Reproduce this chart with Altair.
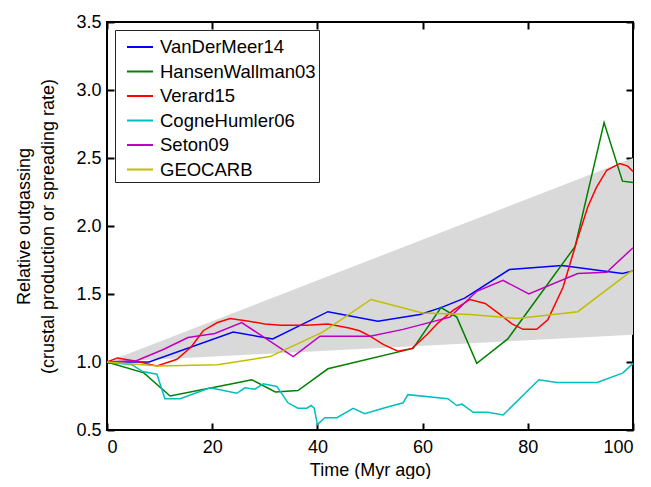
import altair as alt
import pandas as pd

FONT = "Liberation Sans"

series_names = ["VanDerMeer14", "HansenWallman03", "Verard15", "CogneHumler06", "Seton09", "GEOCARB"]
series_colors = ["#0000ff", "#008000", "#ff0000", "#00bfbf", "#bf00bf", "#bfbf00"]

vdm_t = [0, 8, 24, 31.5, 42, 51.5, 59.5, 63.5, 68, 76.5, 86.5, 98, 100]
vdm_v = [1.0, 1.0, 1.22, 1.17, 1.37, 1.30, 1.35, 1.40, 1.47, 1.68, 1.71, 1.65, 1.67]

hw_t = [0, 7, 12, 25, 27.5, 32, 36.3, 42, 58.2, 63.5, 66.5, 70.3, 76.2, 89, 94.5, 98, 100]
hw_v = [1.0, 0.92, 0.75, 0.85, 0.87, 0.78, 0.79, 0.95, 1.10, 1.40, 1.33, 0.99, 1.17, 1.85, 2.76, 2.33, 2.32]

ver_t = [0, 2, 5, 9.5, 13.3, 16, 18.3, 21, 23.4, 27, 30, 33, 38, 42, 46, 48, 50, 52.5, 55.3, 58, 60.8,
         63, 65.8, 69, 71.9, 74.7, 77, 79.1, 81.7, 83.8, 86.7, 89.4, 91.4, 93, 95, 97.5, 99, 100]
ver_v = [1.0, 1.03, 1.01, 0.97, 1.02, 1.11, 1.23, 1.29, 1.32, 1.30, 1.28, 1.27, 1.27, 1.28, 1.25, 1.23, 1.19,
         1.13, 1.08, 1.10, 1.20, 1.29, 1.38, 1.46, 1.43, 1.35, 1.28, 1.24, 1.24, 1.31, 1.55, 1.90, 2.14, 2.28,
         2.41, 2.46, 2.44, 2.40]

ch_t = [0, 4.7, 6.8, 9.5, 11, 13.9, 19.6, 24.7, 26.2, 28.1, 29.7, 32.3, 34.4, 36.3, 38, 38.8, 39.4, 40,
        41.4, 43.7, 46.8, 49, 52.5, 56.3, 57.2, 64.8, 66.5, 67.5, 69.6, 72.4, 75.3, 82.1, 85.5, 93.2, 98.1, 100]
ch_v = [1.0, 0.98, 0.93, 0.91, 0.73, 0.73, 0.81, 0.77, 0.81, 0.80, 0.84, 0.82, 0.70, 0.66, 0.66, 0.68, 0.66,
        0.54, 0.59, 0.59, 0.66, 0.62, 0.66, 0.70, 0.76, 0.73, 0.68, 0.69, 0.63, 0.63, 0.61, 0.87, 0.85, 0.85,
        0.92, 0.99]

set_t = [0, 5.6, 10.6, 15.4, 20.5, 25.6, 35.4, 40.5, 50, 56.3, 65.2, 70.3, 75.3, 80.2, 89.5, 95, 100]
set_v = [1.0, 1.01, 1.09, 1.18, 1.21, 1.29, 1.04, 1.19, 1.19, 1.24, 1.33, 1.52, 1.60, 1.50, 1.65, 1.66, 1.84]

geo_t = [0, 9.8, 21, 31, 41, 50.2, 60, 69, 74.7, 78, 89.5, 99.4, 100]
geo_v = [1.0, 0.97, 0.98, 1.04, 1.22, 1.46, 1.36, 1.35, 1.33, 1.32, 1.37, 1.66, 1.67]

band_t = [0, 100]
band_lo = [1.0, 1.2]
band_hi = [1.0, 2.5]

x_ticks = [0, 20, 40, 60, 80, 100]
y_ticks = [0.5, 1.0, 1.5, 2.0, 2.5, 3.0, 3.5]

rows = []
for name, ts, vs in zip(series_names,
                        [vdm_t, hw_t, ver_t, ch_t, set_t, geo_t],
                        [vdm_v, hw_v, ver_v, ch_v, set_v, geo_v]):
    for t, v in zip(ts, vs):
        rows.append({"series": name, "t": t, "v": v})
lines_df = pd.DataFrame(rows)
band_df = pd.DataFrame({"t": band_t, "lo": band_lo, "hi": band_hi})

xscale = alt.Scale(domain=[0, 100], nice=False, zero=False)
yscale = alt.Scale(domain=[0.5, 3.5], nice=False, zero=False)


def tick_axis(orient, values):
    return alt.Axis(orient=orient, offset=-7, tickSize=7, tickWidth=2, tickColor="black",
                    labels=False, domain=False, grid=False, title=None, values=values)


band = alt.Chart(band_df).mark_area(color="#d9d9d9", opacity=1).encode(
    x=alt.X("t:Q", scale=xscale,
            axis=alt.Axis(title="Time (Myr ago)", values=x_ticks, ticks=False, tickSize=0, domain=False,
                          grid=False, format="d", labelPadding=8, titlePadding=5,
                          labelFontSize=18, titleFontSize=18, labelColor="black", titleColor="black",
                          titleFontWeight="normal")),
    y=alt.Y("lo:Q", scale=yscale,
            axis=alt.Axis(title=["Relative outgassing", "(crustal production or spreading rate)"],
                          values=y_ticks, ticks=False, tickSize=0, domain=False, grid=False, format=".1f",
                          labelPadding=6, titlePadding=18, titleLineHeight=24,
                          labelFontSize=18, titleFontSize=18, labelColor="black", titleColor="black",
                          titleFontWeight="normal")),
    y2="hi:Q",
)

lines = alt.Chart(lines_df).mark_line(strokeWidth=1.5).encode(
    x=alt.X("t:Q", scale=xscale, axis=tick_axis("bottom", x_ticks)),
    y=alt.Y("v:Q", scale=yscale, axis=tick_axis("left", y_ticks)),
    color=alt.Color("series:N", scale=alt.Scale(domain=series_names, range=series_colors),
                    legend=alt.Legend(title=None, orient="none", legendX=8, legendY=8,
                                      symbolType="stroke", symbolSize=676, symbolStrokeWidth=2,
                                      symbolOffset=8, labelFontSize=18.5, labelFont=FONT, labelColor="black",
                                      labelOffset=6, rowPadding=0.5, padding=3, strokeColor="#222222",
                                      fillColor="white", cornerRadius=0, labelLimit=300,
                                      labelExpr="datum.label + '\u00a0\u00a0\u00a0'")),
)

frame = alt.Chart(band_df).mark_point(opacity=0).encode(
    x=alt.X("t:Q", scale=xscale, axis=tick_axis("top", x_ticks)),
    y=alt.Y("hi:Q", scale=yscale, axis=tick_axis("right", y_ticks)),
)

chart = alt.layer(band, lines, frame).resolve_axis(x="independent", y="independent").properties(
    width=526, height=408,
    autosize=alt.AutoSizeParams(type="none"),
    padding={"left": 99, "top": 14, "right": 10, "bottom": 49},
).configure(font=FONT).configure_view(stroke="black", strokeWidth=2).configure_axis(
    labelFont=FONT, titleFont=FONT)

chart.save("out.html", embed_options={"renderer": "svg", "actions": False})
